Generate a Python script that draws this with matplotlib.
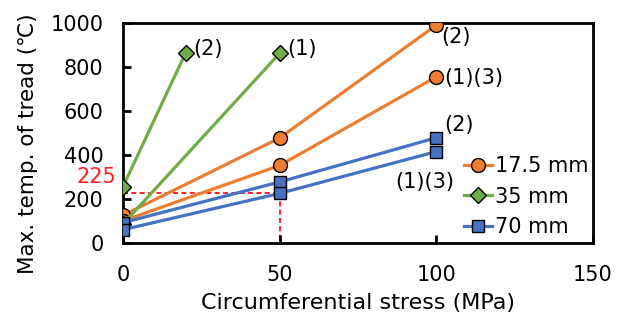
import matplotlib
matplotlib.use('Agg')
import matplotlib.pyplot as plt

plt.rcParams['font.family'] = ['DejaVu Sans', 'Noto Sans CJK JP']

# 応力 (MPa) と最高温度 (℃)
x_175_2 = [0, 50, 100]
y_175_2 = [125, 477, 990]
x_175_13 = [0, 50, 100]
y_175_13 = [100, 352, 755]

x_35_2 = [0, 20]
y_35_2 = [255, 864]
x_35_1 = [0, 50]
y_35_1 = [85, 862]

x_70_2 = [0, 50, 100]
y_70_2 = [92, 277, 478]
x_70_13 = [0, 50, 100]
y_70_13 = [60, 225, 415]

orange = '#ED7D31'
green = '#70AD47'
blue = '#4472C4'

fig = plt.figure(figsize=(6.24, 3.2), dpi=100)
ax = fig.add_axes([0.197, 0.241, 0.753, 0.687])

# 補助線 225℃
ax.plot([0, 50], [225, 225], color='#FF0000', lw=1.2, ls=(0, (3, 2)), zorder=1)
ax.plot([50, 50], [225, 0], color='#FF0000', lw=1.2, ls=(0, (3, 2)), zorder=1)

kw = dict(lw=2.3, markeredgecolor='black', markeredgewidth=1.0, zorder=3)
ax.plot(x_175_2, y_175_2, color=orange, marker='o', ms=10, markerfacecolor=orange, label='17.5 mm', **kw)
ax.plot(x_175_13, y_175_13, color=orange, marker='o', ms=10, markerfacecolor=orange, **kw)
ax.plot(x_35_2, y_35_2, color=green, marker='D', ms=8, markerfacecolor=green, label='35 mm', **kw)
ax.plot(x_35_1, y_35_1, color=green, marker='D', ms=8, markerfacecolor=green, **kw)
ax.plot(x_70_2, y_70_2, color=blue, marker='s', ms=9, markerfacecolor=blue, label='70 mm', **kw)
ax.plot(x_70_13, y_70_13, color=blue, marker='s', ms=9, markerfacecolor=blue, **kw)

fs = 15
ax.text(22.5, 880, '(2)', fontsize=fs, va='center', ha='left')
ax.text(52.5, 880, '(1)', fontsize=fs, va='center', ha='left')
ax.text(101.5, 935, '(2)', fontsize=fs, va='center', ha='left')
ax.text(102.5, 752, '(1)(3)', fontsize=fs, va='center', ha='left')
ax.text(102.5, 535, '(2)', fontsize=fs, va='center', ha='left')
ax.text(87, 275, '(1)(3)', fontsize=fs, va='center', ha='left')
ax.text(-2.2, 300, '225', fontsize=fs, va='center', ha='right', color='#FF2020')

ax.set_xlim(0, 150)
ax.set_ylim(0, 1000)
ax.set_xticks([0, 50, 100, 150])
ax.set_yticks([0, 200, 400, 600, 800, 1000])
ax.tick_params(direction='in', length=6, width=2, labelsize=fs)
ax.tick_params(axis='x', pad=16)
ax.tick_params(axis='y', pad=14)
for s in ax.spines.values():
    s.set_linewidth(2)

ax.set_xlabel('Circumferential stress (MPa)', fontsize=16, labelpad=6)
ax.set_ylabel('Max. temp. of tread (℃)', fontsize=15.5)
ax.yaxis.set_label_coords(-0.18, 0.45)

ax.legend(loc='center left', bbox_to_anchor=(0.703, 0.21), frameon=False,
          fontsize=fs, handlelength=1.35, handletextpad=0.15, labelspacing=0.5,
          borderpad=0)

plt.savefig('out.png', dpi=100)
